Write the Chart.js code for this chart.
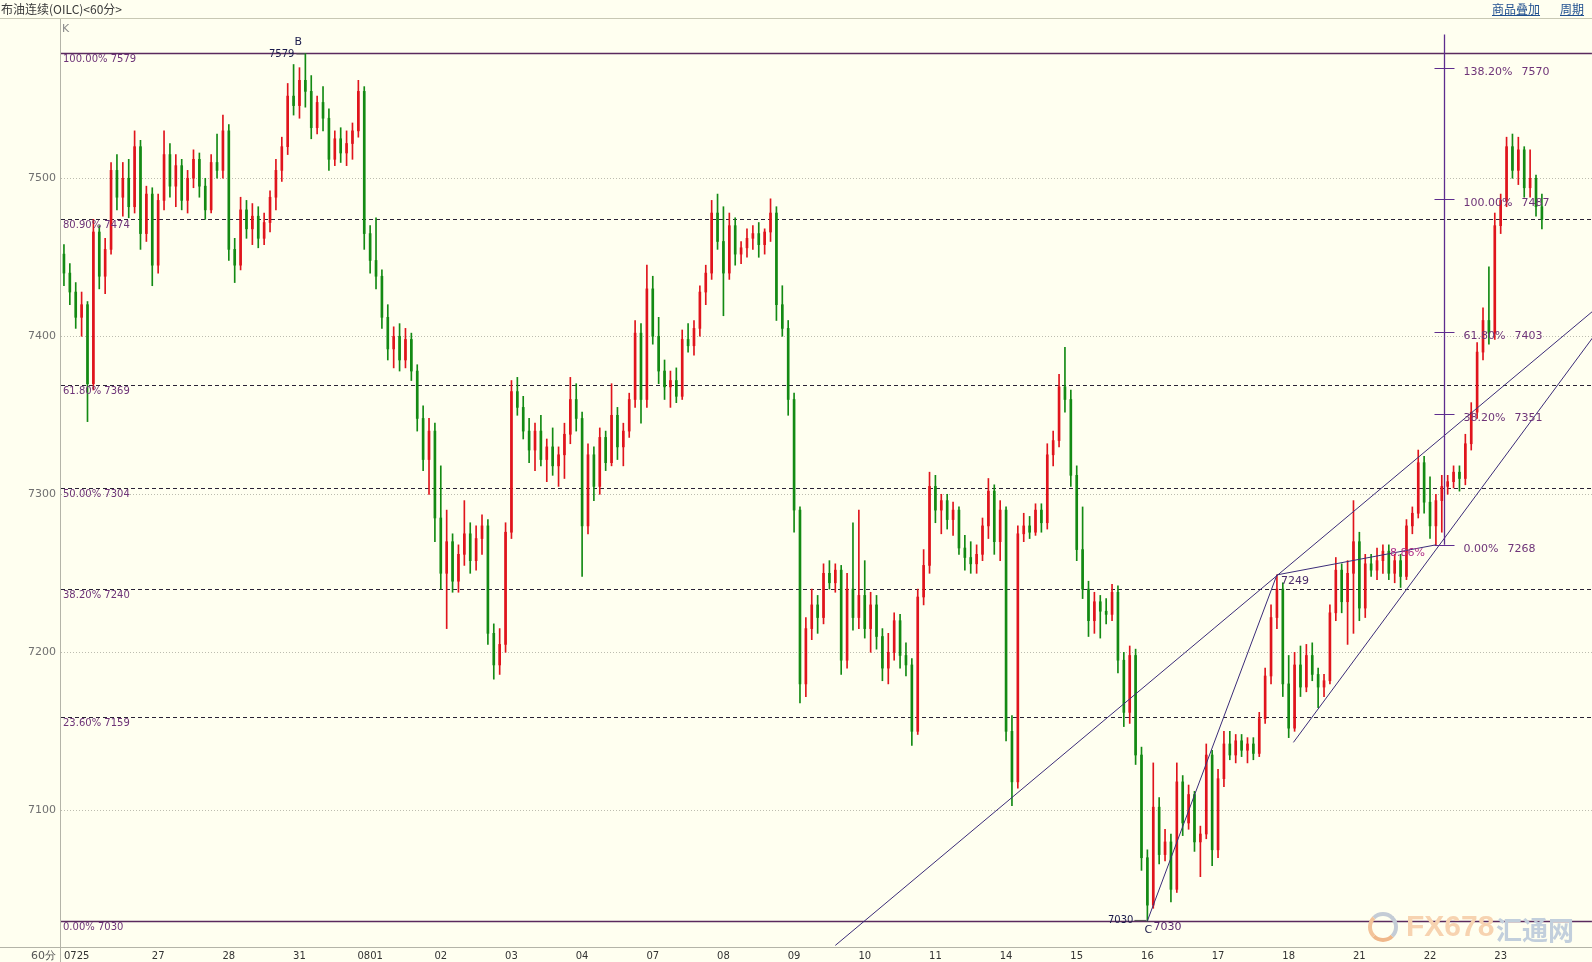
<!DOCTYPE html>
<html>
<head>
<meta charset="utf-8">
<title>布油连续(OILC)&lt;60分&gt;</title>
<script src="https://cdn.jsdelivr.net/npm/chart.js@4.4.1/dist/chart.umd.min.js"></script>
<style>
  html, body { margin: 0; padding: 0; background: #fffff0; }
  #wrap { position: relative; width: 1592px; height: 962px; overflow: hidden; background: #fffff0; }
  #box { position: absolute; left: 0; top: 0; width: 1592px; height: 962px; }
  #head { position: absolute; left: 0; top: 0; width: 1592px; height: 18px; border-bottom: 1px solid #c8c8b4;
          font: 12px "Noto Sans CJK SC", sans-serif; color: #3a3a3a; }
  #head .t { position: absolute; left: 1px; top: 0px; line-height: 17px; }
  #head a { position: absolute; top: 0px; line-height: 17px; color: #1f4f8f; text-decoration: underline; }
  .lbl { position: absolute; font: 11px "DejaVu Sans", sans-serif; color: #8a8a8a; }
  #wm { position: absolute; left: 1368px; top: 909px; height: 34px; pointer-events: none; white-space: nowrap; }
  #wm .logo { position: absolute; left: 0; top: 3px; width: 22px; height: 22px; border-radius: 50%;
              border: 4px solid #c4ccd6; border-left-color: #f3c49a; border-bottom-color: #f0b88a; }
  #wm .fx { position: absolute; left: 38px; top: 0; font: bold 30px "Liberation Sans", sans-serif; color: #f7d3b0; }
  #wm .cn { position: absolute; left: 128px; top: 1px; font: bold 26px "Noto Sans CJK SC", sans-serif; color: #c2cfdc; }
</style>
</head>
<body>
<div id="wrap">
  <div id="box"><canvas id="chart"></canvas></div>
  <div id="head">
    <span class="t">布油连续(OILC)&lt;60分&gt;</span>
    <a style="left:1492px">商品叠加</a>
    <a style="left:1560px">周期</a>
  </div>
  <span class="lbl" style="left:62px;top:22px;">K</span>
  <span class="lbl" style="left:31px;top:948px;color:#555;">60分</span>
  <div id="wm"><span class="logo"></span><span class="fx">FX678</span><span class="cn">汇通网</span></div>
</div>
<script>
// ---------- data ----------
const dayLabels  = ["0725","27","28","31","0801","02","03","04","07","08","09","10","11","14","15","16","17","18","21","22","23"];
const barsPerDay = [16,12,12,12,12,12,12,12,12,12,12,12,12,12,12,12,12,12,12,12,8];
const emptySlots = 8; // blank space after the last bar

const opens = [
  7452,7440,7428,7412,7420,7370,7466,7438,7455,7505,7488,7500,7482,7520,7465,7490, // 0725
  7445,7486,7515,7495,7508,7486,7500,7512,7495,7480,7510,7505, // 27
  7530,7455,7445,7480,7468,7476,7462,7472,7488,7505,7520,7552, // 28
  7546,7562,7555,7532,7548,7538,7512,7525,7516,7522,7530,7555, // 31
  7465,7448,7438,7412,7392,7400,7385,7398,7378,7348,7322,7340, // 0801
  7285,7250,7270,7245,7262,7275,7258,7272,7280,7212,7192,7205, // 02
  7276,7365,7355,7340,7328,7340,7322,7330,7318,7325,7338,7360, // 03
  7348,7280,7325,7305,7336,7320,7350,7330,7340,7360,7402,7360, // 04
  7430,7400,7378,7368,7372,7362,7398,7394,7405,7428,7440,7478, // 07
  7460,7440,7470,7452,7456,7462,7465,7458,7466,7478,7420,7405, // 08
  7360,7290,7180,7215,7230,7222,7250,7244,7252,7195,7240,7222, // 09
  7236,7215,7230,7210,7190,7200,7220,7198,7192,7150,7235,7255, // 10
  7305,7290,7296,7284,7290,7266,7260,7256,7262,7280,7302,7270, // 11
  7290,7150,7118,7275,7280,7276,7290,7282,7325,7334,7368,7360, // 14
  7312,7265,7240,7220,7232,7226,7224,7238,7195,7162,7198,7135, // 15
  7070,7040,7102,7072,7080,7050,7118,7092,7110,7080,7085,7135, // 16
  7075,7120,7142,7135,7144,7138,7142,7136,7158,7185,7222,7240, // 17
  7180,7152,7192,7178,7198,7186,7178,7182,7225,7252,7232,7250, // 18
  7270,7228,7256,7252,7258,7264,7250,7258,7248,7280,7288,7320, // 21
  7295,7280,7296,7305,7308,7314,7310,7332,7352,7390,7410,7402, // 22
  7470,7486,7520,7505,7518,7494,7500,7482                      // 23
];
const highs = [
  7458,7446,7434,7428,7422,7474,7470,7462,7510,7515,7510,7512,7530,7524,7495,7494,
  7490,7530,7522,7515,7512,7505,7518,7516,7500,7515,7528,7540,
  7534,7462,7488,7486,7484,7482,7478,7492,7512,7526,7560,7572,
  7570,7579,7565,7552,7558,7544,7530,7532,7530,7535,7562,7558,
  7470,7475,7442,7420,7406,7408,7405,7402,7382,7356,7348,7345,
  7318,7290,7275,7268,7296,7282,7280,7287,7284,7218,7215,7282,
  7372,7374,7362,7348,7345,7350,7335,7342,7330,7345,7374,7370,
  7352,7332,7330,7342,7340,7370,7355,7345,7364,7410,7408,7445,
  7438,7412,7385,7378,7380,7404,7408,7410,7432,7445,7486,7490,
  7482,7478,7475,7460,7468,7470,7472,7468,7487,7482,7432,7410,
  7364,7292,7222,7240,7236,7256,7258,7256,7255,7250,7282,7290,
  7258,7238,7236,7215,7212,7225,7224,7206,7196,7240,7265,7314,
  7312,7300,7300,7295,7292,7274,7270,7268,7285,7310,7306,7296,
  7292,7160,7280,7288,7286,7294,7294,7332,7340,7376,7393,7366,
  7318,7292,7245,7238,7236,7234,7243,7242,7200,7204,7202,7140,
  7075,7130,7108,7088,7085,7130,7122,7116,7112,7090,7142,7138,
  7126,7150,7150,7148,7148,7146,7146,7162,7190,7230,7249,7244,
  7198,7200,7204,7205,7206,7190,7186,7230,7260,7256,7258,7296,
  7276,7262,7262,7266,7268,7268,7262,7262,7284,7292,7328,7324,
  7311,7300,7312,7312,7318,7318,7338,7358,7396,7418,7444,7478,
  7490,7526,7528,7526,7520,7518,7502,7490
];
const lows = [
  7432,7420,7405,7400,7346,7366,7430,7427,7452,7480,7476,7475,7478,7455,7460,7432,
  7440,7480,7488,7482,7480,7478,7494,7488,7474,7478,7500,7500,
  7448,7434,7442,7462,7458,7456,7458,7466,7480,7498,7515,7540,
  7538,7545,7525,7528,7530,7505,7508,7510,7508,7512,7526,7455,
  7440,7430,7405,7385,7380,7378,7380,7372,7340,7315,7300,7270,
  7240,7215,7238,7238,7255,7250,7252,7262,7205,7183,7186,7200,
  7272,7350,7335,7320,7315,7318,7308,7312,7305,7310,7332,7340,
  7248,7275,7296,7300,7315,7318,7322,7318,7336,7355,7345,7355,
  7395,7370,7360,7355,7358,7360,7390,7388,7400,7420,7436,7455,
  7413,7436,7445,7446,7450,7455,7450,7452,7460,7410,7400,7350,
  7276,7168,7172,7208,7212,7218,7240,7238,7186,7190,7214,7215,
  7209,7200,7202,7182,7180,7195,7190,7185,7141,7148,7230,7250,
  7282,7275,7278,7274,7262,7252,7250,7250,7258,7272,7262,7258,
  7144,7103,7114,7270,7272,7274,7276,7278,7318,7330,7352,7305,
  7258,7234,7210,7212,7209,7218,7220,7187,7153,7155,7129,7062,
  7030,7038,7066,7068,7042,7048,7084,7088,7074,7058,7082,7065,
  7070,7115,7132,7130,7134,7130,7132,7134,7155,7180,7215,7172,
  7146,7150,7172,7175,7182,7165,7172,7180,7220,7225,7205,7212,
  7220,7222,7248,7246,7250,7246,7244,7241,7246,7275,7285,7288,
  7272,7268,7276,7300,7304,7302,7306,7328,7348,7385,7395,7398,
  7465,7482,7500,7496,7488,7488,7476,7468
];
const closes = [
  7440,7428,7412,7420,7370,7466,7438,7455,7505,7488,7500,7482,7520,7465,7490,7445,
  7486,7515,7495,7508,7486,7500,7512,7495,7480,7510,7505,7530,
  7455,7445,7480,7468,7476,7462,7472,7488,7505,7520,7552,7546,
  7562,7555,7532,7548,7538,7512,7525,7516,7522,7530,7555,7465,
  7448,7438,7412,7392,7400,7385,7398,7378,7348,7322,7340,7285,
  7250,7270,7245,7262,7275,7258,7272,7280,7212,7192,7205,7276,
  7365,7355,7340,7328,7340,7322,7330,7318,7325,7338,7360,7348,
  7280,7325,7305,7336,7320,7350,7330,7340,7360,7402,7360,7430,
  7400,7378,7368,7372,7362,7398,7394,7405,7428,7440,7478,7460,
  7440,7470,7452,7456,7462,7465,7458,7466,7478,7420,7405,7360,
  7290,7180,7215,7230,7222,7250,7244,7252,7195,7240,7222,7236,
  7215,7230,7210,7190,7200,7220,7198,7192,7150,7235,7255,7305,
  7290,7296,7284,7290,7266,7260,7256,7262,7280,7302,7270,7290,
  7150,7118,7275,7280,7276,7290,7282,7325,7334,7368,7360,7312,
  7265,7240,7220,7232,7226,7224,7238,7195,7162,7198,7135,7070,
  7040,7102,7072,7080,7050,7118,7092,7110,7080,7085,7135,7075,
  7120,7142,7135,7144,7138,7142,7136,7158,7185,7222,7240,7180,
  7152,7192,7178,7198,7186,7178,7182,7225,7252,7232,7250,7270,
  7228,7256,7252,7258,7264,7250,7258,7248,7280,7288,7320,7295,
  7280,7296,7305,7308,7314,7310,7332,7352,7390,7410,7402,7470,
  7486,7520,7505,7518,7494,7500,7482,7474
];

const yTicks = [7100, 7200, 7300, 7400, 7500];
const yMin = 7013.5, yMax = 7600.8;

// retracement B(7579) -> C(7030), drawn across the whole chart
const retraceLevels = ["100.00%","80.90%","61.80%","50.00%","38.20%","23.60%","0.00%"];
const retracePrices = [7579, 7474, 7369, 7304, 7240, 7159, 7030];

// extension tool on the right
const extLevels = ["138.20%","100.00%","61.80%","38.20%","0.00%"];
const extPrices = [7570, 7487, 7403, 7351, 7268];
const extBar = 234.4, extTop = 7591;

// trend lines, [bar index, price] pairs
const trendLines = [
  [[131, 7014.5], [260, 7417]],
  [[184, 7030], [206, 7249]],
  [[206, 7249], [233, 7268]],
  [[208.8, 7143], [260, 7401]],
];
const pointB = [41, 7579], pointC = [184, 7030], pointX = [206, 7249];

// ---------- build ----------
const tickLabels = [];
dayLabels.forEach((d, k) => { for (let j = 0; j < barsPerDay[k]; j++) tickLabels.push(j === 0 ? d : ""); });
for (let j = 0; j < emptySlots; j++) tickLabels.push("");

const UP = "#e0141c", DOWN = "#138a13";
const colors = closes.map((c, i) => c > opens[i] ? UP : (c < opens[i] ? DOWN : "#111"));

const overlay = {
  id: "overlay",
  beforeDatasetsDraw(c) {
    const { ctx, chartArea: a, scales: { y } } = c;
    ctx.save();
    retracePrices.forEach((p, i) => {
      const yy = Math.round(y.getPixelForValue(p)) + 0.5;
      const solid = i === 0 || i === retracePrices.length - 1;
      ctx.strokeStyle = solid ? "#5a2a5e" : "#2a2236";
      ctx.lineWidth = solid ? 1.4 : 1;
      ctx.setLineDash(solid ? [] : [4, 3]);
      ctx.beginPath(); ctx.moveTo(a.left, yy); ctx.lineTo(a.right, yy); ctx.stroke();
    });
    ctx.restore();
  },
  afterDatasetsDraw(c) {
    const { ctx, chartArea: a, scales: { x, y } } = c;
    const px = v => x.getPixelForValue(v), py = v => y.getPixelForValue(v);
    ctx.save();
    ctx.beginPath(); ctx.rect(a.left, a.top, a.right - a.left, a.bottom - a.top); ctx.clip();

    // trend lines
    ctx.strokeStyle = "#3b2c78"; ctx.lineWidth = 1;
    trendLines.forEach(([p, q]) => {
      ctx.beginPath(); ctx.moveTo(px(p[0]), py(p[1])); ctx.lineTo(px(q[0]), py(q[1])); ctx.stroke();
    });

    // retracement labels
    ctx.font = '10px "DejaVu Sans"'; ctx.textBaseline = "middle"; ctx.fillStyle = "#6e3478";
    retracePrices.forEach((p, i) => ctx.fillText(retraceLevels[i] + " " + p, a.left + 2, py(p) + 6));

    // extension tool
    const X = Math.round(px(extBar)) + 0.5;
    ctx.strokeStyle = "#5e2d8e"; ctx.lineWidth = 1.3;
    ctx.beginPath(); ctx.moveTo(X, py(extTop)); ctx.lineTo(X, py(extPrices[extPrices.length - 1])); ctx.stroke();
    ctx.lineWidth = 1;
    ctx.font = '11px "DejaVu Sans"';
    extPrices.forEach((p, i) => {
      const yy = Math.round(py(p)) + 0.5;
      ctx.beginPath(); ctx.moveTo(X - 10, yy); ctx.lineTo(X + 10, yy); ctx.stroke();
      const lx = X + 19;
      ctx.fillText(extLevels[i], lx, yy + 4);
      ctx.fillText(String(p), lx + ctx.measureText(extLevels[i]).width + 9, yy + 4);
    });

    // point labels
    ctx.font = '10px "DejaVu Sans"';
    const bx = px(pointB[0]), by = py(pointB[1]);
    ctx.fillStyle = "#1c1c4c"; ctx.textAlign = "right";
    ctx.fillText(String(pointB[1]), bx - 11, by + 1);
    ctx.textAlign = "center"; ctx.font = '11px "DejaVu Sans"';
    ctx.fillText("B", bx - 7, by - 11);
    ctx.strokeStyle = "#555"; ctx.beginPath(); ctx.moveTo(bx - 9, by + 0.5); ctx.lineTo(bx, by + 0.5); ctx.stroke();

    const cx = px(pointC[0]), cy = py(pointC[1]);
    ctx.font = '10px "DejaVu Sans"'; ctx.textAlign = "right"; ctx.fillStyle = "#1c1c4c";
    ctx.fillText(String(pointC[1]), cx - 14, cy - 1);
    ctx.beginPath(); ctx.moveTo(cx - 13, cy - 0.5); ctx.lineTo(cx - 1, cy - 0.5); ctx.stroke();
    ctx.textAlign = "center"; ctx.font = '11px "DejaVu Sans"';
    ctx.fillText("C", cx + 1, cy + 9);
    ctx.textAlign = "left"; ctx.fillStyle = "#5a2a6e";
    ctx.fillText(String(pointC[1]), cx + 6, cy + 6);

    ctx.fillStyle = "#4a2a6a"; ctx.font = '11px "DejaVu Sans"';
    ctx.fillText(String(pointX[1]), px(pointX[0]) + 4, py(pointX[1]) + 6);
    ctx.fillStyle = "#b0308a";
    ctx.fillText("8.86%", px(225.2), py(7263));
    ctx.restore();
  },
  afterDraw(c) {
    const { ctx, chartArea: a } = c;
    ctx.save();
    ctx.strokeStyle = "#b4b4a8"; ctx.lineWidth = 1;
    ctx.beginPath(); ctx.moveTo(a.left - 0.5, 18); ctx.lineTo(a.left - 0.5, 962); ctx.stroke();
    ctx.beginPath(); ctx.moveTo(0, a.bottom + 0.5); ctx.lineTo(1592, a.bottom + 0.5); ctx.stroke();
    ctx.restore();
  }
};

new Chart(document.getElementById("chart"), {
  type: "bar",
  data: {
    labels: tickLabels,
    datasets: [
      { label: "body", data: opens.map((o, i) => [Math.min(o, closes[i]), Math.max(o, closes[i])]),
        backgroundColor: colors, barThickness: 2, minBarLength: 1, grouped: false, borderWidth: 0, order: 1 },
      { label: "wick", data: lows.map((l, i) => [l, highs[i]]),
        backgroundColor: colors, barThickness: 1, grouped: false, borderWidth: 0, order: 2 },
    ],
  },
  options: {
    responsive: true,
    maintainAspectRatio: false,
    animation: false,
    events: [],
    layout: { padding: { top: 19, left: 0, right: 0, bottom: 0 } },
    plugins: { legend: { display: false }, tooltip: { enabled: false } },
    scales: {
      x: {
        offset: true,
        grid: { display: false, drawTicks: false },
        border: { display: false },
        ticks: {
          autoSkip: false, maxRotation: 0, minRotation: 0, align: "inner", padding: 3,
          color: "#333", font: { family: "DejaVu Sans", size: 10 },
          callback: (v, i) => tickLabels[i],
        },
        afterFit: s => { s.height = 15; },
      },
      y: {
        min: yMin, max: yMax,
        grid: { color: "#bdbdb0", drawTicks: false },
        border: { display: false, dash: [1, 2] },
        ticks: { padding: 5, color: "#707070", font: { family: "DejaVu Sans", size: 11 },
                 callback: v => String(v) },
        afterBuildTicks: s => { s.ticks = yTicks.map(v => ({ value: v })); },
        afterFit: s => { s.width = 61; },
      },
    },
  },
  plugins: [overlay],
});
</script>
</body>
</html>
